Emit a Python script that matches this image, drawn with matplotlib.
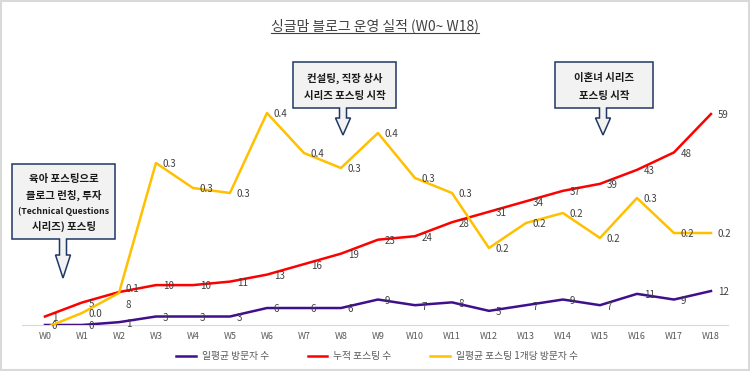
import numpy as np
import matplotlib.pyplot as plt
from matplotlib import font_manager
from matplotlib.patches import Polygon, Rectangle
from matplotlib.lines import Line2D

plt.rcParams['font.family'] = ['Noto Sans CJK KR', 'DejaVu Sans']

# ----- Data ----- #
weeks = ['W' + str(i) for i in range(19)]
visitors = [0, 0, 1, 3, 3, 3, 6, 6, 6, 9, 7, 8, 5, 7, 9, 7, 11, 9, 12]          # 일평균 방문자 수
postings = [1, 5, 8, 10, 10, 11, 13, 16, 19, 23, 24, 28, 31, 34, 37, 39, 43, 48, 59]  # 누적 포스팅 수
per_post = [0.01, 0.04, 0.08, 0.34, 0.29, 0.28, 0.44, 0.36, 0.33, 0.40,
            0.31, 0.28, 0.17, 0.22, 0.24, 0.19, 0.27, 0.20, 0.20]             # 포스팅 1개당 방문자 수

c_purple = '#3f0f8c'
c_red = '#ff0000'
c_yellow = '#ffc000'
c_text = '#404040'

# narrow font for the latin line in the first callout, if there is one
try:
    font_manager.findfont('Liberation Sans Narrow', fallback_to_default=False)
    narrow = ['Liberation Sans Narrow', 'Noto Sans CJK KR']
    narrow_size = 7.5
except Exception:
    narrow = ['Noto Sans CJK KR', 'DejaVu Sans']
    narrow_size = 6.3

W, H = 750, 371
fig = plt.figure(figsize=(7.5, 3.71), dpi=100)

def px(x, y):
    # figure pixel (from top-left) -> figure fraction
    return x / W, 1 - y / H

# ----- Axes: one per series, no visible y axes ----- #
l, b = px(22, 325)
r, t = px(728, 55)
ax = fig.add_axes([l, b, r - l, t - b])
ax_red = ax.twinx()
ax_yel = ax.twinx()

x = np.arange(len(weeks))
ax.plot(x, visitors, color=c_purple, lw=1.8, zorder=3)
ax_red.plot(x, postings, color=c_red, lw=1.8, zorder=3)
ax_yel.plot(x, per_post, color=c_yellow, lw=1.8, zorder=3)

ax.set_ylim(0, 95.4)
ax_red.set_ylim(-1.43, 75.9)
ax_yel.set_ylim(0.016, 0.556)
for a in (ax, ax_red, ax_yel):
    a.set_xlim(-0.62, 18.46)
    for s in a.spines.values():
        s.set_visible(False)
    a.set_yticks([])
ax.spines['bottom'].set_visible(True)
ax.spines['bottom'].set_color('#d9d9d9')
ax.set_xticks(x)
ax.set_xticklabels(weeks, fontsize=6.5, color='#595959')
ax.tick_params(axis='x', length=0, pad=5)

# ----- Data labels (right of point) ----- #
nudge = {('red', 2): -9, ('yellow', 2): 3}   # W2 labels crowd each other
for name, a, vals, fmt in (('purple', ax, visitors, '{:.0f}'), ('red', ax_red, postings, '{:.0f}'),
                           ('yellow', ax_yel, per_post, '{:.1f}')):
    for xi, v in zip(x, vals):
        dy = nudge.get((name, xi), -1)
        a.annotate(fmt.format(v), (xi, v), xytext=(5, dy), textcoords='offset points',
                   fontsize=7, color=c_text, va='center', ha='left', zorder=5)

# ----- Title ----- #
title = fig.text(*px(375, 26), '싱글맘 블로그 운영 실적 (W0~ W18)', ha='center', va='center',
                 fontsize=10, color=c_text)
fig.canvas.draw()
bb = title.get_window_extent().transformed(fig.transFigure.inverted())
fig.add_artist(Line2D([bb.x0, bb.x1], [bb.y0 + 0.002, bb.y0 + 0.002], color=c_text, lw=0.8,
                      transform=fig.transFigure))

# ----- Callout boxes ----- #
def callout(x0, y0, x1, y1, tip_x, neck_y, tip_y, lines, line_y):
    sw, hw = 3.5, 7.5
    pts = [(x0, y0), (x1, y0), (x1, y1), (tip_x + sw, y1), (tip_x + sw, neck_y),
           (tip_x + hw, neck_y), (tip_x, tip_y), (tip_x - hw, neck_y), (tip_x - sw, neck_y),
           (tip_x - sw, y1), (x0, y1)]
    poly = Polygon([px(*p) for p in pts], closed=True, facecolor='#f2f2f2',
                   edgecolor='#1f3864', lw=1.1, transform=fig.transFigure, zorder=10)
    fig.add_artist(poly)
    for txt, ly in zip(lines, line_y):
        is_latin = txt.startswith('(')
        fig.text(*px((x0 + x1) / 2, ly), txt, ha='center', va='center',
                 fontsize=narrow_size if is_latin else 7.5, fontweight='bold',
                 family=narrow if is_latin else None, color='#1a1a1a', zorder=11)

callout(12, 164, 115, 239, 63, 255, 278,
        ['육아 포스팅으로', '블로그 런칭, 투자', '(Technical Questions', '시리즈) 포스팅'],
        [179, 195, 211, 226])
callout(293, 62, 396, 108, 343, 118, 135, ['컨설팅, 직장 상사', '시리즈 포스팅 시작'], [78, 96])
callout(555, 62, 653, 108, 603, 118, 135, ['이혼녀 시리즈', '포스팅 시작'], [78, 96])

# ----- Legend ----- #
handles = [Line2D([], [], color=c_purple, lw=1.8),
           Line2D([], [], color=c_red, lw=1.8),
           Line2D([], [], color=c_yellow, lw=1.8)]
names = ['일평균 방문자 수', '누적 포스팅 수', '일평균 포스팅 1개당 방문자 수']
fig.legend(handles, names, loc='center', bbox_to_anchor=px(377, 356), ncol=3, frameon=False,
           fontsize=7, handlelength=2.0, columnspacing=4.0, handletextpad=0.6,
           labelcolor='#595959')

# ----- Outer border ----- #
fig.add_artist(Rectangle((0.001, 0.003), 0.998, 0.995, fill=False, edgecolor='#d9d9d9',
                         lw=1.5, transform=fig.transFigure))

fig.savefig('out.png', dpi=100)
